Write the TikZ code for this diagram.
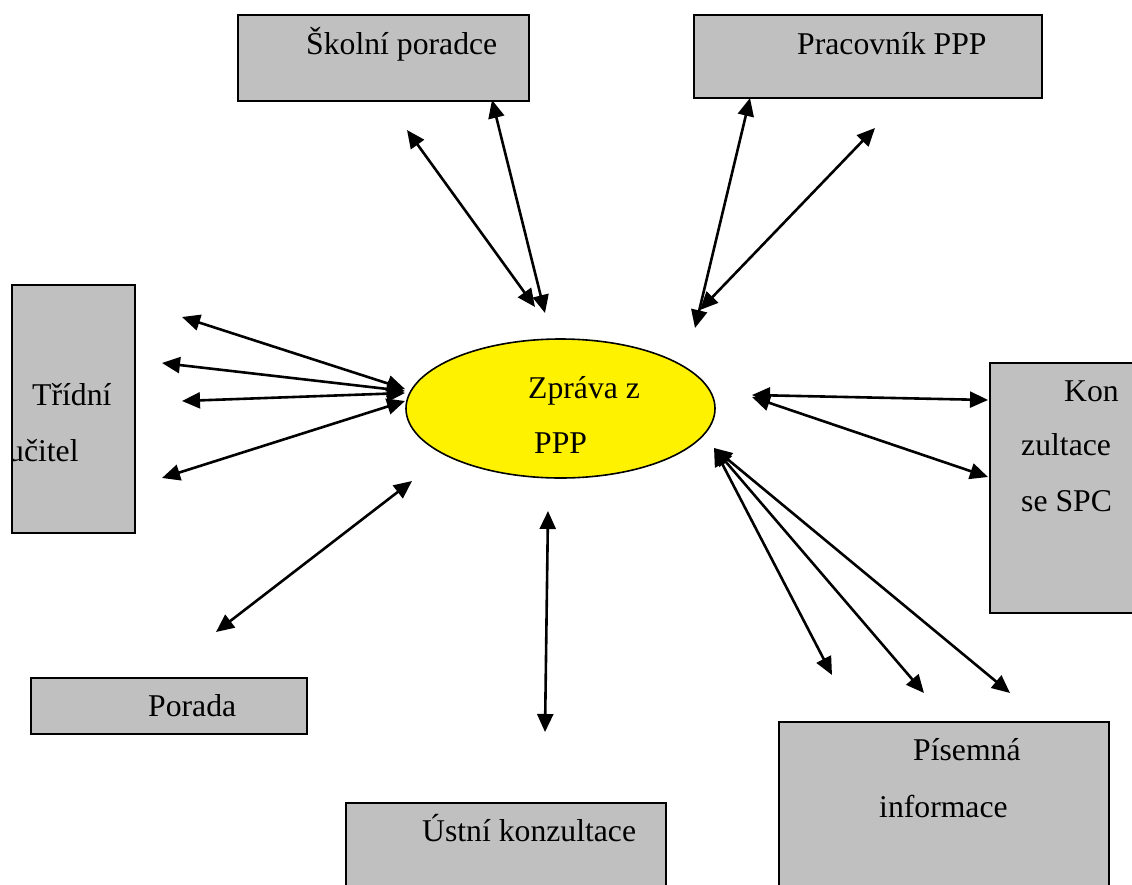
\documentclass[tikz,border=0pt]{standalone}
\usepackage{fontspec}
\setmainfont{Liberation Serif}
\usetikzlibrary{arrows.meta,shapes.geometric}
\definecolor{boxgray}{RGB}{192,192,192}
\tikzset{
  box/.style={draw=black, fill=boxgray, line width=2.3pt, rectangle, anchor=north west, inner sep=0pt},
  hub/.style={draw=black, fill=yellow, line width=1.6pt, ellipse, inner sep=0pt},
  lbl/.style={anchor=base west, inner sep=0pt, font=\fontsize{31.7}{38}\selectfont},
  link/.style={line width=2.6pt, {Triangle[length=18pt,width=16pt]}-{Triangle[length=18pt,width=16pt]}},
}
\begin{document}
\begin{tikzpicture}[x=1pt,y=-1pt]
\useasboundingbox (0,0) rectangle (1132,884);

% boxes
\node[box, minimum width=291pt, minimum height=86pt] (skol) at (237,14) {};
\node[box, minimum width=348pt, minimum height=83pt] (prac) at (693,14) {};
\node[box, minimum width=123pt, minimum height=248pt] (trid) at (11,284) {};
\node[box, minimum width=160pt, minimum height=250pt] (kon) at (989,362) {};
\node[box, minimum width=276pt, minimum height=56pt] (por) at (30,677) {};
\node[box, minimum width=320pt, minimum height=100pt] (ust) at (345,802) {};
\node[box, minimum width=330pt, minimum height=180pt] (pis) at (778,721) {};

% central report
\node[hub, minimum width=309pt, minimum height=139pt] (zpr) at (560.5,408.5) {};

% texts
\node[lbl] (tskol) at (306,54) {Školní poradce};
\node[lbl] (tprac) at (797,54) {Pracovník PPP};
\node[lbl] (ttrid1) at (32,405) {Třídní};
\begin{scope}
  % the second line starts under the left border of its box
  \clip (12.2,284) rectangle (134,532);
  \node[lbl] (ttrid2) at (8,461) {učitel};
\end{scope}
\node[lbl] (tzpr1) at (528,398) {Zpráva z};
\node[lbl] (tzpr2) at (534,453) {PPP};
\node[lbl] (tkon1) at (1064,401) {Kon};
\node[lbl] (tkon2) at (1021,455) {zultace};
\node[lbl] (tkon3) at (1021,511) {se SPC};
\node[lbl] (tpor) at (148,716) {Porada};
\node[lbl] (tust) at (422,841) {Ústní konzultace};
\node[lbl] (tpis1) at (913,760) {Písemná};
\node[lbl] (tpis2) at (879,817) {informace};

% arrow ends
\coordinate (s1) at (407,130);
\coordinate (s1e) at (535,307);
\coordinate (s2) at (492,100);
\coordinate (s2e) at (545,313);
\coordinate (p1) at (750,98);
\coordinate (p1e) at (695,328);
\coordinate (p2) at (875,128);
\coordinate (p2e) at (700,310);
\coordinate (t1) at (182,317);
\coordinate (t1e) at (405,389);
\coordinate (t2) at (162,363);
\coordinate (t2e) at (405,391);
\coordinate (t3) at (182,401);
\coordinate (t3e) at (405,393);
\coordinate (t4) at (162,478);
\coordinate (t4e) at (405,401);
\coordinate (k1) at (752,395);
\coordinate (k1e) at (988,400);
\coordinate (k2) at (752,397);
\coordinate (k2e) at (988,477);
\coordinate (w0) at (714,448);
\coordinate (w1) at (832,675);
\coordinate (w2) at (924,693);
\coordinate (w3) at (1010,693);
\coordinate (r1) at (412,481);
\coordinate (r1e) at (216,632);
\coordinate (u1) at (548,511);
\coordinate (u1e) at (545,732);

% connectors
\draw[link] (s1) -- (s1e);
\draw[link] (s2) -- (s2e);
\draw[link] (p1) -- (p1e);
\draw[link] (p2) -- (p2e);
\draw[link] (t1) -- (t1e);
\draw[link] (t2) -- (t2e);
\draw[link] (t3) -- (t3e);
\draw[link] (t4) -- (t4e);
\draw[link] (k1) -- (k1e);
\draw[link] (k2) -- (k2e);
\draw[link] (w0) -- (w1);
\draw[link] (w0) -- (w2);
\draw[link] (w0) -- (w3);
\draw[link] (r1) -- (r1e);
\draw[link] (u1) -- (u1e);
\end{tikzpicture}
\end{document}
